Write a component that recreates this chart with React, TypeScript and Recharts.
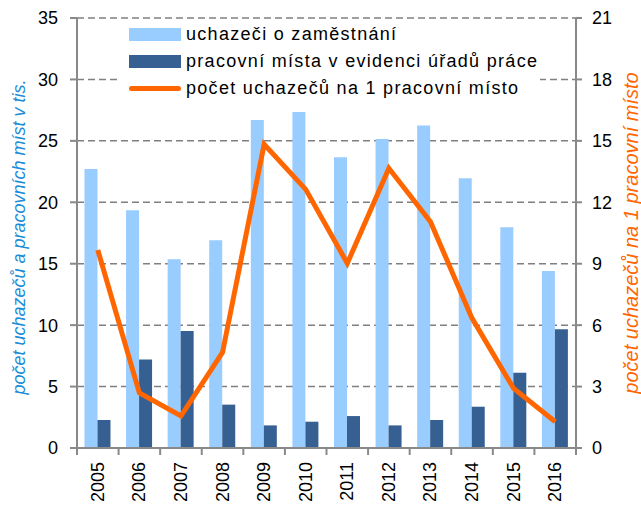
import React from 'react';
import { ComposedChart, Bar, Line, XAxis, YAxis, CartesianGrid, Legend } from 'recharts';

const years = ['2005', '2006', '2007', '2008', '2009', '2010', '2011', '2012', '2013', '2014', '2015', '2016'];
const applicants = [22.7, 19.35, 15.36, 16.9, 26.7, 27.35, 23.66, 25.15, 26.26, 21.95, 17.96, 14.4];
const vacancies = [2.28, 7.2, 9.52, 3.53, 1.84, 2.14, 2.6, 1.84, 2.28, 3.36, 6.13, 9.66];
const ratio = [9.67, 2.69, 1.56, 4.67, 14.83, 12.63, 9.02, 13.66, 11.05, 6.33, 2.91, 1.28];

const leftTicks = [0, 5, 10, 15, 20, 25, 30, 35];
const rightTicks = [0, 3, 6, 9, 12, 15, 18, 21];

const seriesNames = ['uchazeči o zaměstnání', 'pracovní místa v evidenci úřadů práce', 'počet uchazečů na 1 pracovní místo'];
const leftTitle = 'počet uchazečů a pracovních míst v tis.';
const rightTitle = 'počet uchazečů na 1 pracovní místo';

const LIGHT = '#99CCFF';
const DARK = '#376092';
const ORANGE = '#FF6600';
const AXIS = '#898989';
const FONT = '"Liberation Sans", Arial, sans-serif';

const data = years.map((year, i) => ({
  year,
  applicants: applicants[i],
  vacancies: vacancies[i],
  ratio: ratio[i],
}));

function YearTick(props: any) {
  const { x, y, payload, index, visibleTicksCount } = props;
  const half = payload?.offset ?? 0;
  const ty = y + 14;
  const last = index === visibleTicksCount - 1;
  return (
    <g>
      <line x1={x - half} y1={y} x2={x - half} y2={y + 7} stroke={AXIS} strokeWidth={2} />
      {last && <line x1={x + half} y1={y} x2={x + half} y2={y + 7} stroke={AXIS} strokeWidth={2} />}
      <text
        x={x}
        y={ty}
        transform={`rotate(-90 ${x} ${ty})`}
        textAnchor="end"
        dominantBaseline="central"
        fill="#000"
        fontSize={18}
        fontFamily={FONT}
      >
        {payload.value}
      </text>
    </g>
  );
}

function AxisTitle(props: any) {
  const { viewBox, side } = props;
  const vb = viewBox ?? { x: 0, y: 18, width: 77, height: 430 };
  const left = side === 'left';
  const cx = left ? vb.x + 19 : vb.x + vb.width - 10;
  const cy = vb.y + vb.height / 2 + (left ? 4 : 0);
  return (
    <text
      x={cx}
      y={cy}
      transform={`rotate(-90 ${cx} ${cy})`}
      textAnchor="middle"
      dominantBaseline="central"
      fill={left ? '#1A8CD8' : ORANGE}
      fontStyle="italic"
      fontSize={left ? 18 : 20}
      fontFamily={FONT}
    >
      {left ? leftTitle : rightTitle}
    </text>
  );
}

function LegendBox() {
  const swatches = [
    <div style={{ width: 52, height: 13, background: LIGHT }} />,
    <div style={{ width: 52, height: 13, background: DARK }} />,
    <div style={{ width: 52, height: 5, background: ORANGE, borderRadius: 3 }} />,
  ];
  return (
    <div style={{ background: '#fff', fontFamily: FONT, fontSize: 18, letterSpacing: 1.3, color: '#000' }}>
      {seriesNames.map((name, i) => (
        <div key={name} style={{ display: 'flex', alignItems: 'center', height: 27, paddingLeft: 10 }}>
          <div style={{ width: 52, display: 'flex', alignItems: 'center' }}>{swatches[i]}</div>
          <span style={{ marginLeft: 5, whiteSpace: 'nowrap' }}>{name}</span>
        </div>
      ))}
    </div>
  );
}

export default function App() {
  return (
    <div style={{ position: 'fixed', left: 0, top: 0, background: '#fff' }}>
      <ComposedChart
        width={641}
        height={506}
        data={data}
        margin={{ top: 18, right: 0, bottom: 0, left: 0 }}
        barCategoryGap="18%"
        barGap={0}
      >
        <CartesianGrid
          yAxisId="left"
          vertical={false}
          stroke="#808080"
          strokeWidth={1.5}
          strokeDasharray="7 4"
        />
        <XAxis
          dataKey="year"
          interval={0}
          height={58}
          tickSize={0}
          tickMargin={0}
          tickLine={false}
          axisLine={{ stroke: AXIS, strokeWidth: 2 }}
          tick={<YearTick />}
        />
        <YAxis
          yAxisId="left"
          width={77}
          domain={[0, 35]}
          ticks={leftTicks}
          interval={0}
          tickSize={7}
          tickMargin={12}
          axisLine={{ stroke: AXIS, strokeWidth: 2 }}
          tickLine={{ stroke: AXIS, strokeWidth: 2 }}
          tick={{ fill: '#000', fontSize: 18, fontFamily: FONT }}
          label={<AxisTitle side="left" />}
        />
        <YAxis
          yAxisId="right"
          orientation="right"
          width={65}
          domain={[0, 21]}
          ticks={rightTicks}
          interval={0}
          tickSize={6}
          tickMargin={10}
          axisLine={{ stroke: AXIS, strokeWidth: 2 }}
          tickLine={{ stroke: AXIS, strokeWidth: 2 }}
          tick={{ fill: '#000', fontSize: 18, fontFamily: FONT }}
          label={<AxisTitle side="right" />}
        />
        <Legend
          layout="horizontal"
          verticalAlign="middle"
          align="center"
          wrapperStyle={{ left: 119, top: 21, width: 421 }}
          content={() => <LegendBox />}
        />
        <Bar yAxisId="left" dataKey="applicants" name={seriesNames[0]} fill={LIGHT} isAnimationActive={false} />
        <Bar yAxisId="left" dataKey="vacancies" name={seriesNames[1]} fill={DARK} isAnimationActive={false} />
        <Line
          yAxisId="right"
          dataKey="ratio"
          name={seriesNames[2]}
          type="linear"
          stroke={ORANGE}
          strokeWidth={5}
          dot={false}
          isAnimationActive={false}
        />
      </ComposedChart>
    </div>
  );
}
